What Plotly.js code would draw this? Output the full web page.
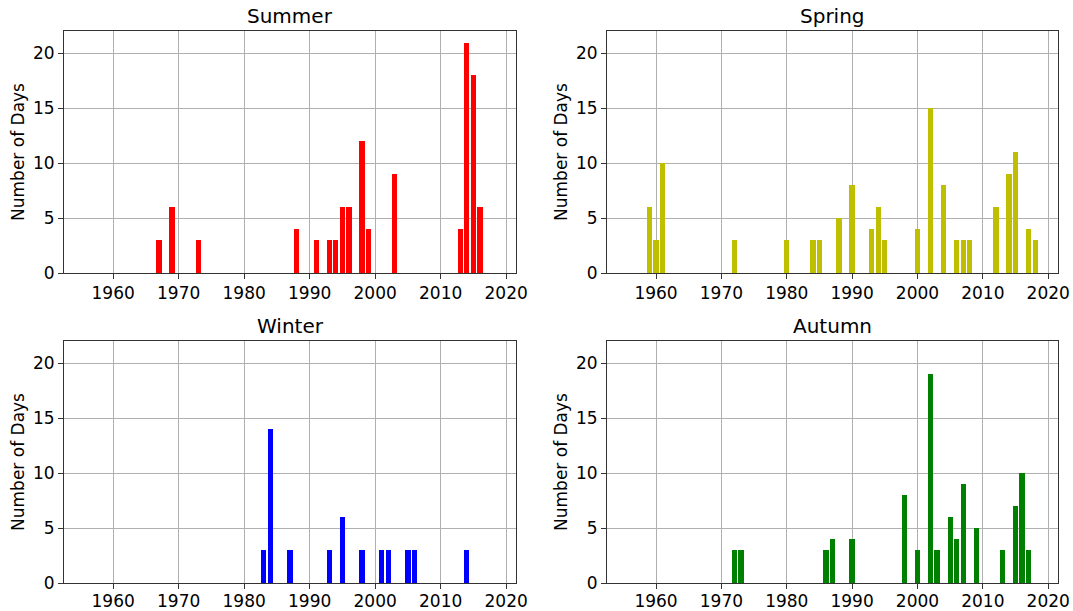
<!DOCTYPE html>
<html>
<head>
<meta charset="utf-8">
<script src="https://cdn.plot.ly/plotly-3.0.1.min.js"></script>
<style>html,body{margin:0;padding:0;background:#fff;}#chart{width:1073px;height:611px;}</style>
</head>
<body>
<div id="chart"></div>
<script>
// Summer
const summerYears = [1967, 1969, 1973, 1988, 1991, 1993, 1994, 1995, 1996, 1998, 1999, 2003, 2013, 2014, 2015, 2016];
const summerDays  = [3, 6, 3, 4, 3, 3, 3, 6, 6, 12, 4, 9, 4, 21, 18, 6];
// Spring
const springYears = [1959, 1960, 1961, 1972, 1980, 1984, 1985, 1988, 1990, 1993, 1994, 1995, 2000, 2002, 2004, 2006, 2007, 2008, 2012, 2014, 2015, 2017, 2018];
const springDays  = [6, 3, 10, 3, 3, 3, 3, 5, 8, 4, 6, 3, 4, 15, 8, 3, 3, 3, 6, 9, 11, 4, 3];
// Winter
const winterYears = [1983, 1984, 1987, 1993, 1995, 1998, 2001, 2002, 2005, 2006, 2014];
const winterDays  = [3, 14, 3, 3, 6, 3, 3, 3, 3, 3, 3];
// Autumn
const autumnYears = [1972, 1973, 1986, 1987, 1990, 1998, 2000, 2002, 2003, 2005, 2006, 2007, 2009, 2013, 2015, 2016, 2017];
const autumnDays  = [3, 3, 3, 4, 4, 8, 3, 19, 3, 6, 4, 9, 5, 3, 7, 10, 3];

const panelTitles = ["Summer", "Spring", "Winter", "Autumn"];
const yTitle = "Number of Days";
const xTicks = [1960, 1970, 1980, 1990, 2000, 2010, 2020];
const yTicks = [0, 5, 10, 15, 20];

const FONT = "DejaVu Sans, sans-serif";
const W = 1073, H = 611;

function bar(x, y, color, xa, ya) {
  return {type: "bar", x: x, y: y, width: 0.8, xaxis: xa, yaxis: ya,
    marker: {color: color, line: {width: 0}}, showlegend: false, hoverinfo: "x+y"};
}

const data = [
  bar(summerYears, summerDays, "#ff0000", "x", "y"),
  bar(springYears, springDays, "#bfbf00", "x2", "y2"),
  bar(winterYears, winterDays, "#0000ff", "x3", "y3"),
  bar(autumnYears, autumnDays, "#008000", "x4", "y4")
];

const xDomL = [64 / W, 516 / W], xDomR = [607 / W, 1058 / W];
const yDomT = [1 - 273 / H, 1 - 31 / H], yDomB = [1 - 583 / H, 1 - 341 / H];

function xax(domain, anchor, standoff) {
  return {domain: domain, anchor: anchor, range: [1952.5, 2021.5], tickvals: xTicks,
    ticktext: xTicks.map(String), showgrid: true, gridcolor: "#b0b0b0", gridwidth: 1,
    zeroline: false, showline: true, mirror: true, linecolor: "#333", linewidth: 1,
    ticks: "outside", ticklen: 5, tickcolor: "#333", tickwidth: 1, ticklabelstandoff: standoff,
    tickfont: {family: FONT, size: 17, color: "#000"}, automargin: false};
}
function yax(domain, anchor) {
  return {domain: domain, anchor: anchor, range: [0, 22.05], tickvals: yTicks,
    ticktext: yTicks.map(String), showgrid: true, gridcolor: "#b0b0b0", gridwidth: 1,
    zeroline: false, showline: true, mirror: true, linecolor: "#333", linewidth: 1,
    ticks: "outside", ticklen: 5, tickcolor: "#333", tickwidth: 1,
    tickfont: {family: FONT, size: 17, color: "#000"}, automargin: false,
    title: {text: yTitle, font: {family: FONT, size: 17, color: "#000"}, standoff: 4}};
}

const titleDomains = [[xDomL, yDomT], [xDomR, yDomT], [xDomL, yDomB], [xDomR, yDomB]];
const annotations = panelTitles.map((t, i) => ({
  text: t, xref: "paper", yref: "paper",
  x: (titleDomains[i][0][0] + titleDomains[i][0][1]) / 2,
  y: titleDomains[i][1][1], xanchor: "center", yanchor: "bottom", yshift: 1,
  showarrow: false, font: {family: FONT, size: 20, color: "#000"}
}));

const layout = {
  width: W, height: H, margin: {l: 0, r: 0, t: 0, b: 0},
  paper_bgcolor: "#fff", plot_bgcolor: "#fff", bargap: 0,
  font: {family: FONT, color: "#000"},
  xaxis: xax(xDomL, "y", 0), yaxis: yax(yDomT, "x"),
  xaxis2: xax(xDomR, "y2", 0), yaxis2: yax(yDomT, "x2"),
  xaxis3: xax(xDomL, "y3", -2), yaxis3: yax(yDomB, "x3"),
  xaxis4: xax(xDomR, "y4", -2), yaxis4: yax(yDomB, "x4"),
  annotations: annotations
};

Plotly.newPlot("chart", data, layout, {displayModeBar: false, staticPlot: true});
</script>
</body>
</html>
